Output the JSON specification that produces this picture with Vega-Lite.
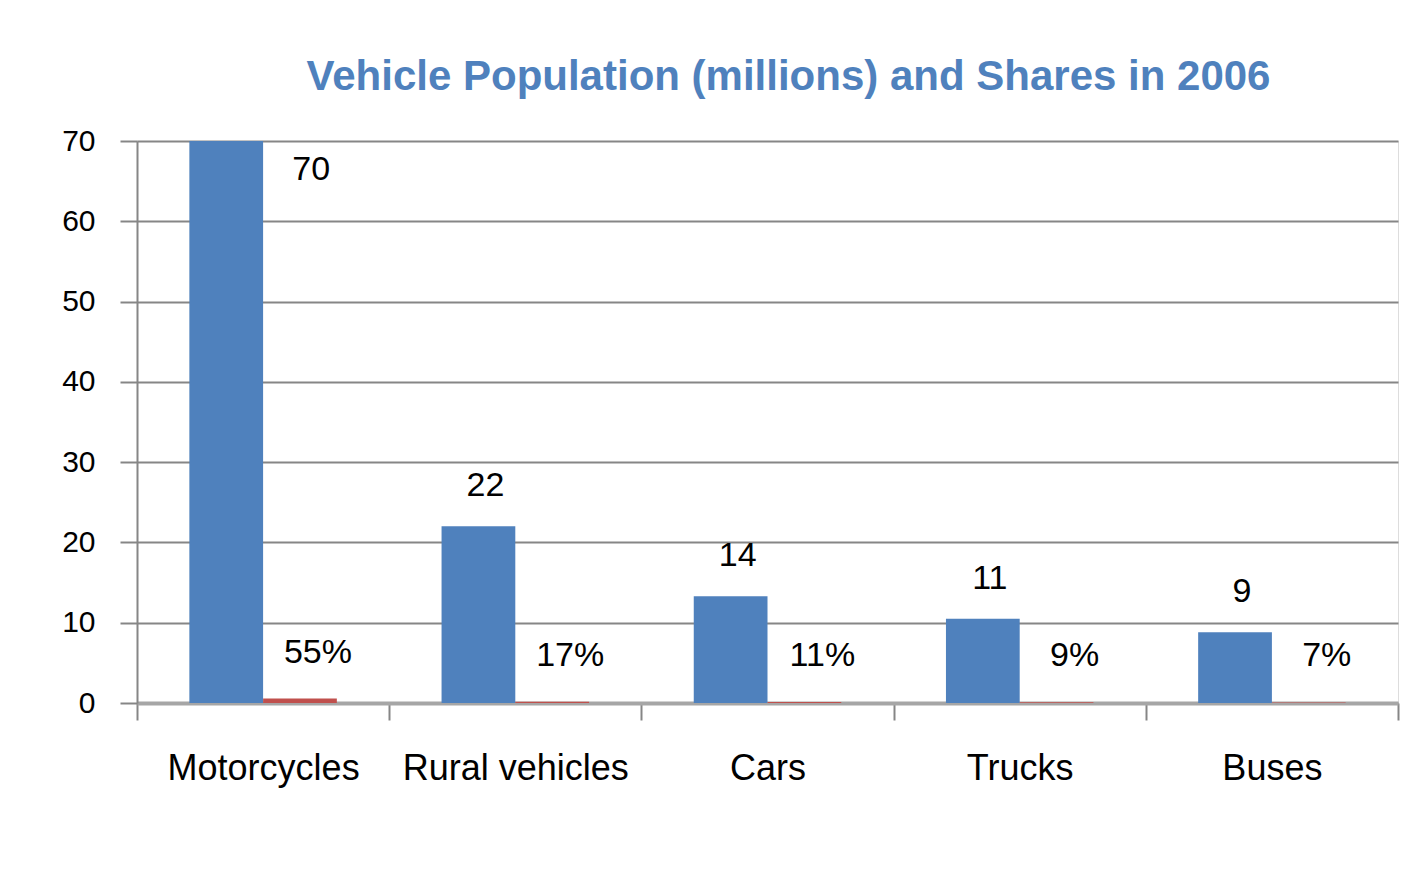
{
  "$schema": "https://vega.github.io/schema/vega-lite/v6.json",
  "width": 1261,
  "height": 562,
  "autosize": {"type": "none"},
  "padding": {"left": 137, "top": 141, "right": 24, "bottom": 187},
  "background": "white",
  "title": {
    "text": "Vehicle Population (millions) and Shares in 2006",
    "font": "Liberation Sans",
    "fontSize": 42,
    "fontWeight": "bold",
    "color": "#4f81bd",
    "anchor": "middle",
    "dx": 21,
    "offset": 27
  },
  "data": {
    "values": [
      {"vehicle": "Motorcycles", "population": 70, "popLabel": "70", "share": 0.55, "shareLabel": "55%"},
      {"vehicle": "Rural vehicles", "population": 22, "popLabel": "22", "share": 0.17, "shareLabel": "17%"},
      {"vehicle": "Cars", "population": 13.3, "popLabel": "14", "share": 0.11, "shareLabel": "11%"},
      {"vehicle": "Trucks", "population": 10.5, "popLabel": "11", "share": 0.09, "shareLabel": "9%"},
      {"vehicle": "Buses", "population": 8.8, "popLabel": "9", "share": 0.07, "shareLabel": "7%"}
    ]
  },
  "transform": [{"fold": ["population", "share"], "as": ["series", "value"]}],
  "encoding": {
    "x": {
      "field": "vehicle",
      "type": "nominal",
      "sort": null,
      "title": null,
      "scale": {"paddingInner": 0, "paddingOuter": 0},
      "axis": {
        "tickBand": "extent",
        "labelAngle": 0,
        "labelLimit": 0,
        "labelFont": "Liberation Sans",
        "labelFontSize": 36,
        "labelColor": "black",
        "labelPadding": 31,
        "tickSize": 17,
        "tickColor": "#868686",
        "tickWidth": 2,
        "domainColor": "#a6a6a6",
        "domainWidth": 4,
        "grid": false
      }
    },
    "xOffset": {
      "field": "series",
      "type": "nominal",
      "sort": ["population", "share"],
      "scale": {"paddingInner": 0, "paddingOuter": 0.71}
    },
    "y": {
      "field": "value",
      "type": "quantitative",
      "title": null,
      "scale": {"domain": [0, 70], "nice": false},
      "axis": {
        "values": [0, 10, 20, 30, 40, 50, 60, 70],
        "labelFont": "Liberation Sans",
        "labelFontSize": 30,
        "labelColor": "black",
        "labelPadding": 25,
        "tickSize": 17,
        "tickColor": "#868686",
        "tickWidth": 2,
        "domainColor": "#868686",
        "domainWidth": 2,
        "gridColor": "#868686",
        "gridWidth": 2,
        "gridOpacity": 1
      }
    }
  },
  "layer": [
    {
      "mark": {"type": "bar"},
      "encoding": {
        "color": {
          "field": "series",
          "type": "nominal",
          "scale": {"domain": ["population", "share"], "range": ["#4f81bd", "#c0504d"]},
          "legend": null
        }
      }
    },
    {
      "transform": [{"filter": "datum.series == 'population'"}],
      "mark": {
        "type": "text",
        "font": "Liberation Sans",
        "fontSize": 34,
        "color": "black",
        "baseline": "middle",
        "dx": {"expr": "datum.value > 60 ? 85 : 7"},
        "dy": {"expr": "datum.value > 60 ? 29 : -40"}
      },
      "encoding": {"text": {"field": "popLabel"}}
    },
    {
      "transform": [{"filter": "datum.series == 'share'"}],
      "mark": {
        "type": "text",
        "font": "Liberation Sans",
        "fontSize": 34,
        "color": "black",
        "baseline": "middle",
        "dx": 18,
        "dy": -46
      },
      "encoding": {"text": {"field": "shareLabel"}}
    }
  ]
}
